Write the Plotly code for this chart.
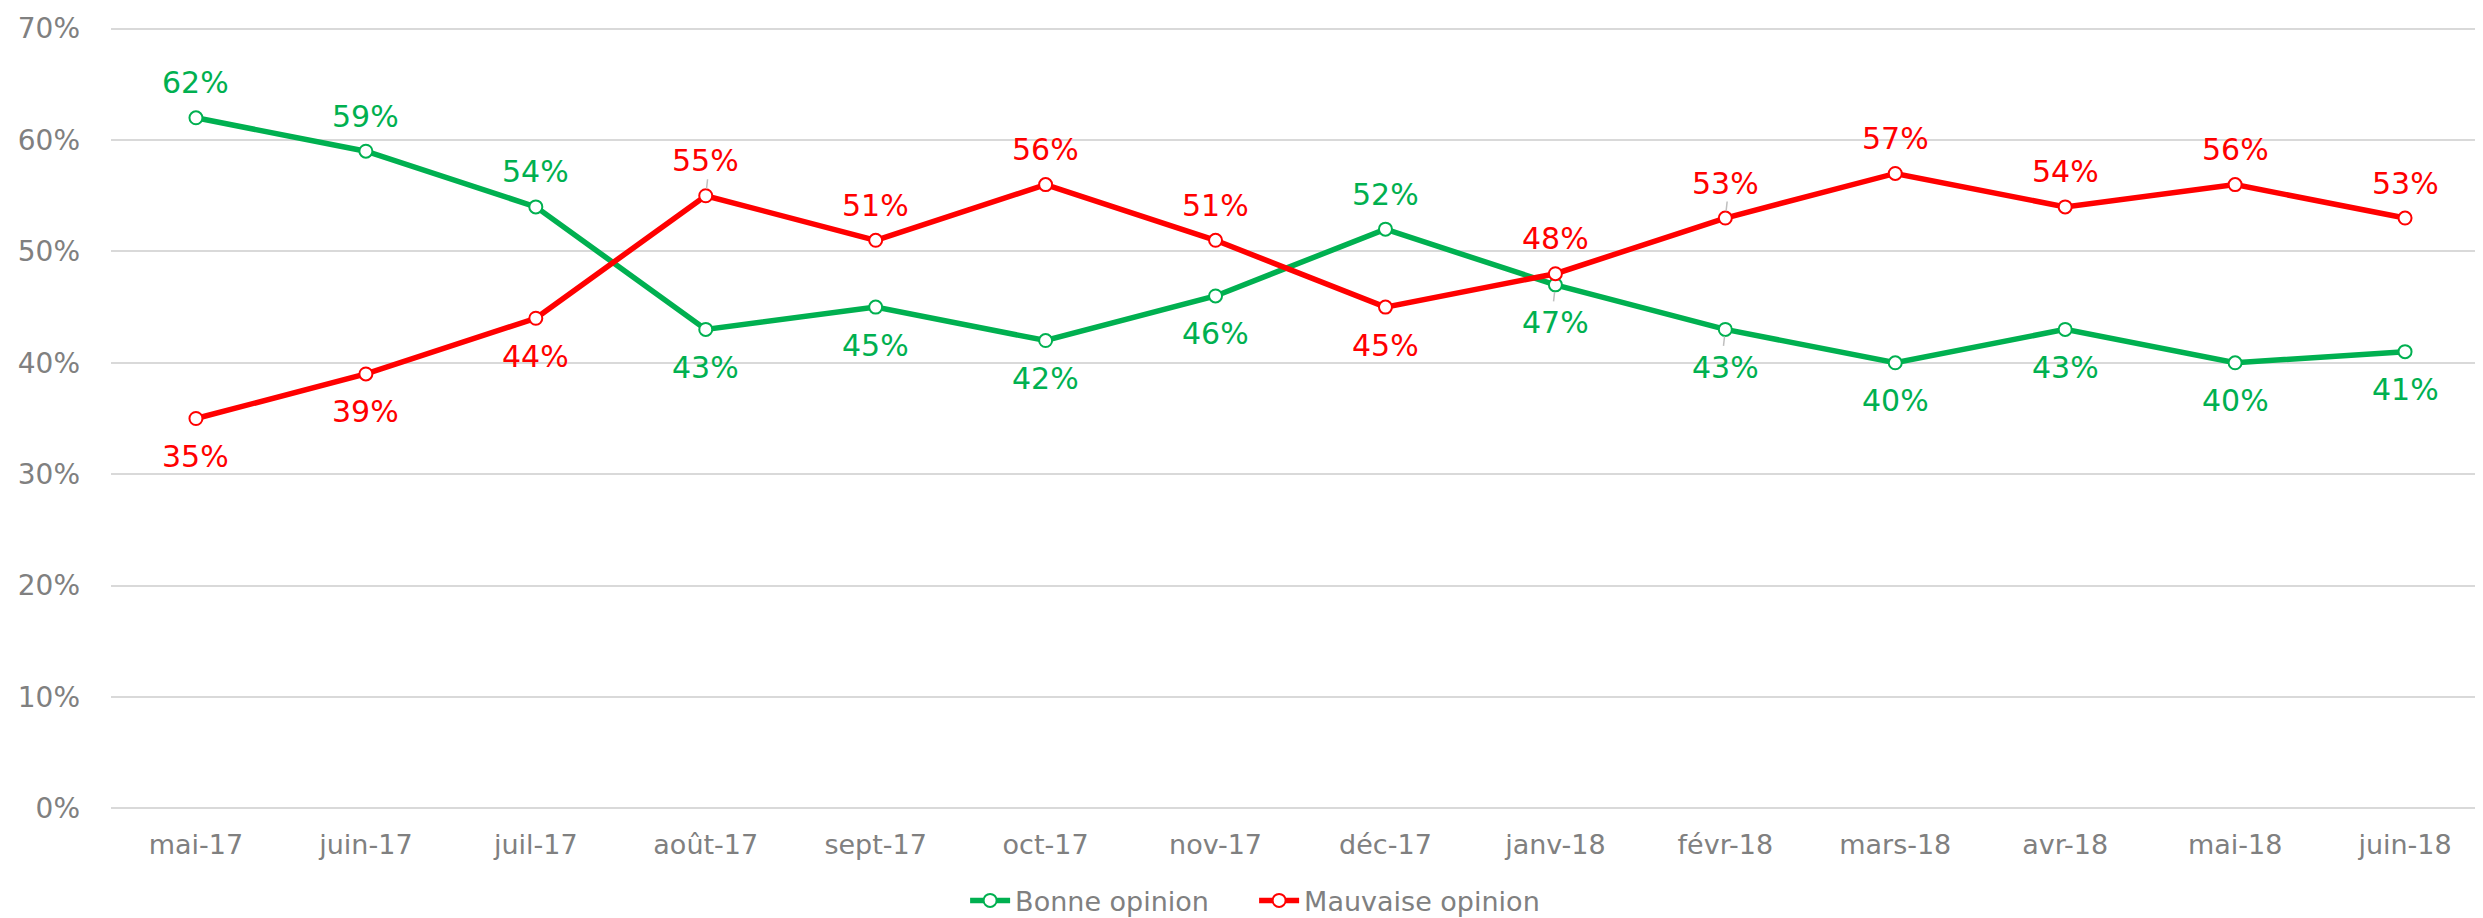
import plotly.graph_objects as go

months = ["mai-17", "juin-17", "juil-17", "août-17", "sept-17", "oct-17", "nov-17",
          "déc-17", "janv-18", "févr-18", "mars-18", "avr-18", "mai-18", "juin-18"]
bonne = [62, 59, 54, 43, 45, 42, 46, 52, 47, 43, 40, 43, 40, 41]
mauvaise = [35, 39, 44, 55, 51, 56, 51, 45, 48, 53, 57, 54, 56, 53]
bonne_above = [True, True, True, False, False, False, False, True, False, False, False, False, False, False]
mauvaise_above = [False, False, False, True, True, True, True, False, True, True, True, True, True, True]
# points whose data label has a small leader line
bonne_leader = ["janv-18", "févr-18"]
mauvaise_leader = ["août-17", "févr-18"]

GREEN = "#00B050"
RED = "#FF0000"
GREY = "#808080"
LEADER = "#BFBFBF"
FONT = "DejaVu Sans, Verdana, sans-serif"

fig = go.Figure()
for name, vals, color in [("Bonne opinion", bonne, GREEN), ("Mauvaise opinion", mauvaise, RED)]:
    fig.add_trace(go.Scatter(
        x=months, y=vals, name=name, mode="lines+markers",
        line=dict(color=color, width=5.5),
        marker=dict(size=13, color="white", line=dict(color=color, width=2)),
        cliponaxis=False,
    ))

annotations = []
for vals, above, leaders, color in [(bonne, bonne_above, bonne_leader, GREEN),
                                    (mauvaise, mauvaise_above, mauvaise_leader, RED)]:
    for m, v, a in zip(months, vals, above):
        if m in leaders:
            annotations.append(dict(
                x=m, y=v, xref="x", yref="y", text="", showarrow=True,
                arrowhead=0, arrowwidth=1.5, arrowcolor=LEADER,
                ax=2 if a else -2, ay=-18 if a else 18, standoff=7,
            ))
        annotations.append(dict(
            x=m, y=v, xref="x", yref="y", text=f"{v}%", showarrow=False,
            yanchor="middle", xanchor="center", yshift=35 if a else -38,
            font=dict(color=color, size=30, family=FONT),
        ))

fig.update_layout(
    width=2483, height=918,
    margin=dict(l=103, r=1, t=19, b=105),
    plot_bgcolor="white", paper_bgcolor="white",
    font=dict(family=FONT, color=GREY, size=26),
    showlegend=True,
    annotations=annotations,
    legend=dict(orientation="h", x=0.4805, xanchor="center", y=-0.116, yanchor="middle",
                font=dict(size=27, color=GREY), itemwidth=40, tracegroupgap=0,
                entrywidth=234),
    xaxis=dict(type="category", range=[-0.5, 13.5], showgrid=False, showline=False,
               zeroline=False, ticks="", tickfont=dict(size=27, color=GREY),
               ticklabelstandoff=16),
    yaxis=dict(range=[-0.15, 70.15], tick0=0, dtick=10,
               ticksuffix="%", showgrid=True,
               gridcolor="#D9D9D9", gridwidth=1.5, zeroline=False, showline=False,
               tickfont=dict(size=28, color=GREY), ticklabelstandoff=30),
)

fig.write_html("out.html")
